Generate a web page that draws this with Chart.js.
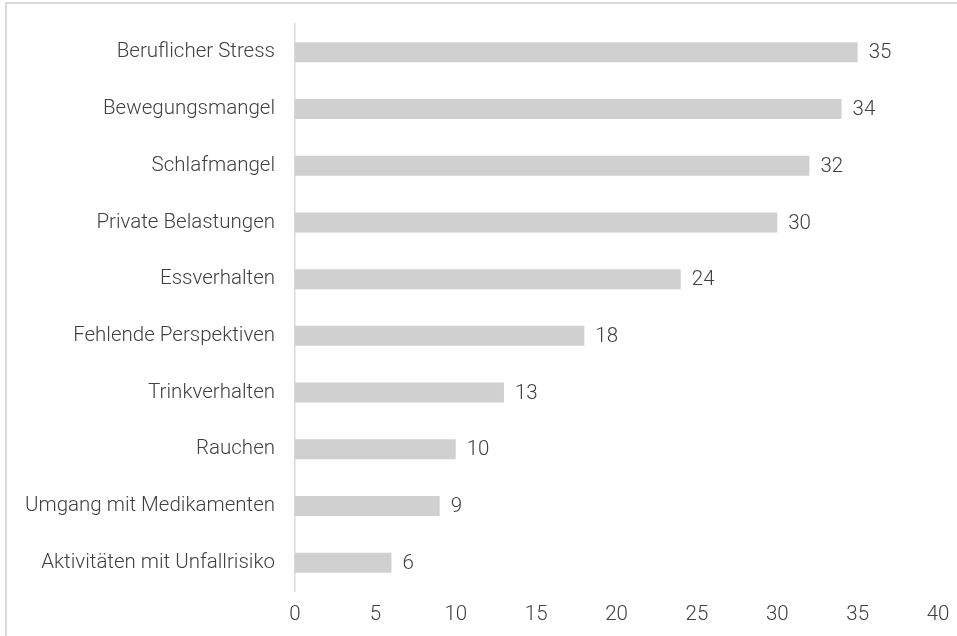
<!DOCTYPE html>
<html>
<head>
<meta charset="utf-8">
<script src="https://cdn.jsdelivr.net/npm/chart.js@4"></script>
<style>
  html, body { margin: 0; padding: 0; background: #fff; overflow: hidden; }
  #wrap { position: relative; width: 957px; height: 636px; }
  #frame { position: absolute; left: 5px; top: 2px; width: 980px; height: 660px; border: 2px solid #d9d9d9; box-sizing: border-box; }
  canvas { position: absolute; left: 0; top: 0; }
</style>
</head>
<body>
<div id="wrap">
  <div id="frame"></div>
  <canvas id="chart" width="957" height="636"></canvas>
</div>
<script>
const categories = [
  'Beruflicher Stress',
  'Bewegungsmangel',
  'Schlafmangel',
  'Private Belastungen',
  'Essverhalten',
  'Fehlende Perspektiven',
  'Trinkverhalten',
  'Rauchen',
  'Umgang mit Medikamenten',
  'Aktivitäten mit Unfallrisiko'
];
const values = [35, 34, 32, 30, 24, 18, 13, 10, 9, 6];
const xTicks = [0, 5, 10, 15, 20, 25, 30, 35, 40];

const textColor = '#404040';
const font = { family: 'Roboto', size: 20.5, weight: 300 };

// value labels to the right of each bar
const valueLabels = {
  id: 'valueLabels',
  afterDatasetsDraw(chart) {
    const ctx = chart.ctx;
    const meta = chart.getDatasetMeta(0);
    ctx.save();
    ctx.font = '300 20.5px Roboto';
    ctx.fillStyle = textColor;
    ctx.textAlign = 'left';
    ctx.textBaseline = 'middle';
    meta.data.forEach((bar, i) => {
      ctx.fillText(String(values[i]), bar.x + 11, bar.y + 1);
    });
    ctx.restore();
  }
};

new Chart(document.getElementById('chart').getContext('2d'), {
  type: 'bar',
  data: {
    labels: categories,
    datasets: [{
      data: values,
      backgroundColor: '#d0d0d0',
      borderWidth: 0,
      categoryPercentage: 1,
      barPercentage: 0.353
    }]
  },
  options: {
    indexAxis: 'y',
    responsive: false,
    animation: false,
    layout: { padding: { top: 24, right: 19, bottom: 0, left: 0 } },
    plugins: { legend: { display: false }, tooltip: { enabled: false } },
    scales: {
      x: {
        min: 0,
        max: 40,
        afterBuildTicks: scale => { scale.ticks = xTicks.map(v => ({ value: v })); },
        afterFit: scale => { scale.height = 45; },
        grid: { display: false },
        border: { display: false },
        ticks: { color: textColor, font: font, padding: 4 }
      },
      y: {
        afterFit: scale => {
          scale.width = 295;
          scale.paddingTop = 0;
          scale.paddingBottom = 0;
        },
        grid: { display: false, drawTicks: false },
        border: { display: true, color: '#d9d9d9', width: 1.5 },
        ticks: { color: textColor, font: font, padding: 20, autoSkip: false }
      }
    }
  },
  plugins: [valueLabels]
});
</script>
</body>
</html>
